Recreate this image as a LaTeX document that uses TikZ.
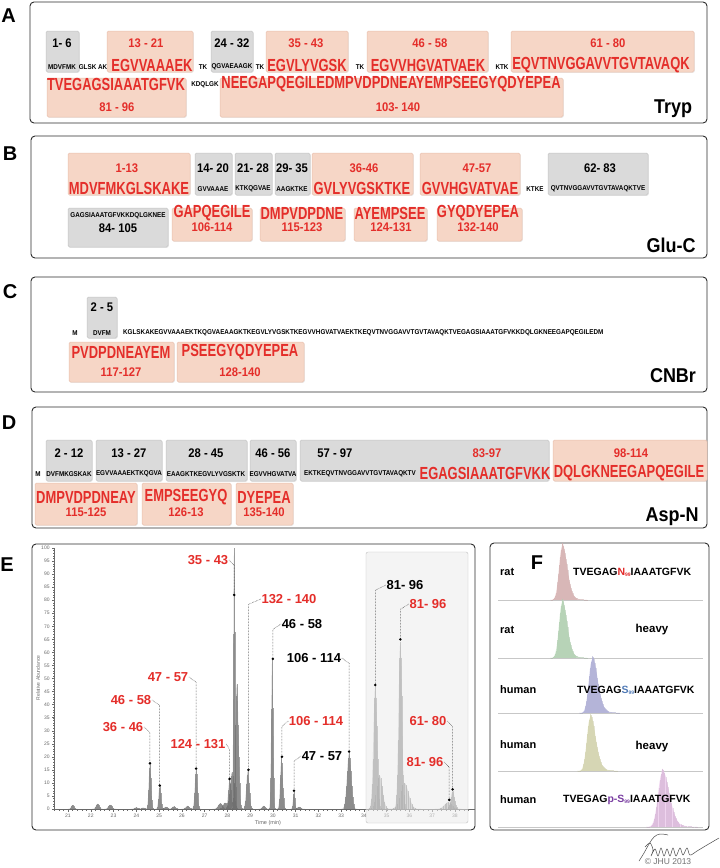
\documentclass[tikz,border=0pt]{standalone}
\usepackage{fontspec}
\setmainfont{Liberation Sans}
\newfontfamily\seqfont{Liberation Sans}[FakeStretch=0.74]
\newfontfamily\labfont{Liberation Sans}[FakeStretch=0.9]
\usepackage{xcolor}
\usepackage{tikz}
\usetikzlibrary{calc,shadows}

\definecolor{pepred}{RGB}{228,46,42}
\definecolor{chipred}{RGB}{246,214,198}
\definecolor{chipredline}{RGB}{232,192,174}
\definecolor{chipgray}{RGB}{218,218,218}
\definecolor{chipgrayline}{RGB}{196,196,196}
\definecolor{frame}{RGB}{45,45,45}
\definecolor{axisgray}{RGB}{105,105,105}
\definecolor{rosepk}{RGB}{218,166,166}
\definecolor{greenpk}{RGB}{166,210,166}
\definecolor{bluepk}{RGB}{160,160,218}
\definecolor{olivepk}{RGB}{214,214,160}
\definecolor{pinkpk}{RGB}{226,176,226}
\definecolor{nred}{RGB}{226,40,40}
\definecolor{sblue}{RGB}{80,122,182}
\definecolor{pspurple}{RGB}{122,62,162}

\newcommand{\pepsub}[1]{\raisebox{-1.2pt}{\fontsize{5}{5}\selectfont #1}}

\tikzset{
  panelbox/.style={draw=frame, line width=0.9pt, rounded corners=4pt},
  redchip/.style={fill=chipred, draw=chipredline, line width=0.5pt, rounded corners=1.5pt,
    drop shadow={opacity=0.15, shadow xshift=0.8pt, shadow yshift=-0.8pt}},
  graychip/.style={fill=chipgray, draw=chipgrayline, line width=0.5pt, rounded corners=1.5pt,
    drop shadow={opacity=0.15, shadow xshift=0.8pt, shadow yshift=-0.8pt}},
  letter/.style={font=\bfseries\fontsize{20}{20}\selectfont, inner sep=0pt},
  enzyme/.style={font=\labfont\bfseries\fontsize{20}{20}\selectfont, inner sep=0pt, anchor=base},
  rng/.style={font=\labfont\bfseries\fontsize{12.5}{12.5}\selectfont, inner sep=0pt, text=pepred},
  bigseq/.style={font=\seqfont\bfseries\fontsize{17.5}{17.5}\selectfont, inner sep=0pt, text=pepred},
  smallseq/.style={font=\labfont\bfseries\fontsize{7}{7}\selectfont, inner sep=0pt},
  elab/.style={font=\bfseries\fontsize{13}{13}\selectfont, inner sep=0.5pt},
  leader/.style={densely dotted, line width=0.5pt, black!85},
  peak/.style={fill=black!45, fill opacity=0.5},
  stick/.style={draw=black!60, line width=0.25pt, opacity=0.6},
  axis/.style={draw=axisgray, line width=0.4pt},
  ticklab/.style={font=\fontsize{5}{5}\selectfont, text=axisgray, inner sep=0pt},
  rowline/.style={draw=black!22, line width=0.4pt},
  ftag/.style={font=\bfseries\fontsize{11}{11}\selectfont, inner sep=0pt, anchor=west},
  fseq/.style={font=\bfseries\fontsize{10.5}{10.5}\selectfont, inner sep=0pt, anchor=west},
  fheavy/.style={font=\bfseries\fontsize{11.5}{11.5}\selectfont, inner sep=0pt},
  sig/.style={draw=black!70, line width=0.5pt, line cap=round},
}

\begin{document}
\begin{tikzpicture}[x=1pt,y=-1pt]
  \useasboundingbox (0,0) rectangle (720,868);
  \fill[white] (0,0) rectangle (720,868);

  % Panel A: trypsin
  \draw[panelbox] (30,2) rectangle (707,123);
  \node[letter] (labA) at (8.5,15.5) {A};
  \foreach \xa/\ya/\xb/\yb/\kind in {46/31/79/72/graychip, 107/31/193/72/redchip,
      211/31/253/72/graychip, 266/31/348/72/redchip, 367/31/488/72/redchip,
      511/31/694/72/redchip, 47/78/186/117/redchip, 220/78/563/117/redchip}
    \draw[\kind] (\xa,\ya) rectangle (\xb,\yb);
  \foreach [count=\i] \x/\y/\t/\c in {62/43/1- 6/black, 146/43/13 - 21/pepred,
      232/43/24 - 32/black, 306/43/35 - 43/pepred, 430/43/46 - 58/pepred,
      608/43/61 - 80/pepred, 117/107/81 - 96/pepred, 398/107/103- 140/pepred}
    \node[rng, text=\c] (ra\i) at (\x,\y) {\t};
  \foreach [count=\i] \x/\y/\t in {152/65/EGVVAAAEK, 307/65/EGVLYVGSK,
      428/65/EGVVHGVATVAEK, 601/65/EQVTNVGGAVVTGVTAVAQK, 116/84/TVEGAGSIAAATGFVK,
      391/84/NEEGAPQEGILEDMPVDPDNEAYEMPSEEGYQDYEPEA}
    \node[bigseq] (sa\i) at (\x,\y) {\t};
  \foreach [count=\i] \x/\y/\t in {62/67/MDVFMK, 93/67/GLSK AK, 203/67/TK,
      232/67/QGVAEAAGK, 260/67/TK, 360/67/TK, 502/67/KTK, 205/85/KDQLGK}
    \node[smallseq] (ta\i) at (\x,\y) {\t};
  \node[enzyme] (tryp) at (673,113) {Tryp};

  % Panel B: Glu-C
  \draw[panelbox] (31,136) rectangle (707,258);
  \node[letter] (labB) at (10,153.5) {B};
  \foreach \xa/\ya/\xb/\yb/\kind in {68/153/190/195/redchip, 195/153/232/195/graychip,
      235/153/272/195/graychip, 275/153/310/195/graychip, 312/153/413/195/redchip,
      420/153/520/195/redchip, 548/153/648/195/graychip, 68/208/168/247/graychip,
      172/208/252/241/redchip, 260/208/345/241/redchip, 354/208/427/241/redchip,
      437/208/522/241/redchip}
    \draw[\kind] (\xa,\ya) rectangle (\xb,\yb);
  \foreach [count=\i] \x/\y/\t/\c in {127/168/1-13/pepred, 213/168/14- 20/black,
      253/168/21- 28/black, 292/168/29- 35/black, 364/168/36-46/pepred,
      477/168/47-57/pepred, 600/168/62- 83/black, 118/228/84- 105/black,
      212/227/106-114/pepred, 302/227/115-123/pepred, 391/227/124-131/pepred,
      478/227/132-140/pepred}
    \node[rng, text=\c] (rb\i) at (\x,\y) {\t};
  \foreach [count=\i] \x/\y/\t in {129/188/MDVFMKGLSKAKE, 362/188/GVLYVGSKTKE,
      470/188/GVVHGVATVAE, 212/213/GAPQEGILE, 302/213/DMPVDPDNE,
      390/213/AYEMPSEE, 478/213/GYQDYEPEA}
    \node[bigseq] (sb\i) at (\x,\y) {\t};
  \foreach [count=\i] \x/\y/\t in {213/189/GVVAAAE, 253/189/KTKQGVAE,
      292/189/AAGKTKE, 535/189/KTKE, 598/189/QVTNVGGAVVTGVTAVAQKTVE,
      118/216/GAGSIAAATGFVKKDQLGKNEE}
    \node[smallseq] (tb\i) at (\x,\y) {\t};
  \node[enzyme] (gluc) at (671,252) {Glu-C};

  % Panel C: CNBr
  \draw[panelbox] (31,277) rectangle (707,392);
  \node[letter] (labC) at (10,292) {C};
  \foreach \xa/\ya/\xb/\yb/\kind in {87/297/117/338/graychip,
      69/342/174/382/redchip, 177/342/304/382/redchip}
    \draw[\kind] (\xa,\ya) rectangle (\xb,\yb);
  \foreach [count=\i] \x/\y/\t/\c in {102/307/2 - 5/black, 121/372/117-127/pepred,
      240/372/128-140/pepred}
    \node[rng, text=\c] (rc\i) at (\x,\y) {\t};
  \node[bigseq] (sc1) at (121,352) {PVDPDNEAYEM};
  \node[bigseq] (sc2) at (240,352) {PSEEGYQDYEPEA};
  \node[smallseq] (tc1) at (75,333) {M};
  \node[smallseq] (tc2) at (102,333) {DVFM};
  \node[smallseq, anchor=west] (tc3) at (123,333)
    {KGLSKAKEGVVAAAEKTKQGVAEAAGKTKEGVLYVGSKTKEGVVHGVATVAEKTKEQVTNVGGAVVTGVTAVAQKTVEGAGSIAAATGFVKKDQLGKNEEGAPQEGILEDM};
  \node[enzyme] (cnbr) at (673,382) {CNBr};

  % Panel D: Asp-N
  \draw[panelbox] (32,407) rectangle (707,528);
  \node[letter] (labD) at (9,423) {D};
  \foreach \xa/\ya/\xb/\yb/\kind in {46/440/92/481/graychip, 96/440/162/481/graychip,
      166/440/247/481/graychip, 250/440/296/481/graychip, 300/440/549/481/graychip,
      553/440/707/481/redchip, 35/483/137/525/redchip, 142/483/231/525/redchip,
      236/483/293/525/redchip}
    \draw[\kind] (\xa,\ya) rectangle (\xb,\yb);
  \foreach [count=\i] \x/\y/\t/\c in {69/453/2 - 12/black, 129/453/13 - 27/black,
      206/453/28 - 45/black, 273/453/46 - 56/black, 335/453/57 - 97/black,
      487/453/83-97/pepred, 631/453/98-114/pepred, 86/512/115-125/pepred,
      186/512/126-13/pepred, 264/512/135-140/pepred}
    \node[rng, text=\c] (rd\i) at (\x,\y) {\t};
  \foreach [count=\i] \x/\y/\t in {485/473/EGAGSIAAATGFVKK, 629/473/DQLGKNEEGAPQEGILE,
      86/497/DMPVDPDNEAY, 186/497/EMPSEEGYQ, 264/497/DYEPEA}
    \node[bigseq] (sd\i) at (\x,\y) {\t};
  \foreach [count=\i] \x/\y/\t in {38/474/M, 69/474/DVFMKGSKAK, 129/474/EGVVAAAEKTKQGVA,
      206/474/EAAGKTKEGVLYVGSKTK, 273/474/EGVVHGVATVA, 360/474/EKTKEQVTNVGGAVVTGVTAVAQKTV}
    \node[smallseq] (td\i) at (\x,\y) {\t};
  \node[enzyme] (aspn) at (672,521) {Asp-N};

  % Panel E: chromatogram
  \draw[panelbox] (32,544) rectangle (475,830);
  \node[letter] (labE) at (7,565) {E};
  \begin{scope}[shift={(-409.96,809)}, x=22.76pt, y=2.61pt]
    % peaks: time / height / width
    \foreach \m/\h/\s in {21.2/1.5/0.06, 22.3/2/0.07, 22.85/1.6/0.08, 24.0/0.6/0.08,
        24.3/0.5/0.08, 24.6/17.5/0.05, 25.03/9/0.05, 25.3/0.8/0.08, 25.65/1/0.07,
        26.25/1.2/0.08, 26.63/15/0.055, 27.7/2.2/0.1, 27.9/2.4/0.1, 28.1/11/0.06,
        28.2/14/0.09, 28.3/100/0.03, 28.42/48/0.07, 28.9/14.5/0.065, 29.6/1.2/0.07,
        29.97/57/0.04, 30.38/19.5/0.055, 30.93/6.5/0.04, 31.15/0.8/0.08,
        33.35/21.5/0.09, 34.5/47/0.08, 34.68/13/0.13, 35.6/64/0.075, 35.78/10/0.18,
        37.7/2.6/0.16, 37.9/7/0.08}{
      \pgfmathsetmacro\lo{\m-4*\s}
      \pgfmathsetmacro\hi{\m+4*\s}
      \fill[peak] plot[domain=\lo:\hi, samples=31] (\x,{\h*exp(-0.5*((\x-\m)/\s)^2)}) -- cycle;
      \draw[stick] plot[ycomb, domain=\lo:\hi, samples=19] (\x,{\h*exp(-0.5*((\x-\m)/\s)^2)});
    }
    % axes
    \draw[axis] (20.38,0) -- (38.88,0);
    \draw[axis] (20.38,0) -- (20.38,100);
    \foreach \t in {20.4,20.6,...,38.8}
      \draw[axis, line width=0.25pt] (\t,0) -- (\t,-0.6);
    \foreach \t in {21,...,38}{
      \draw[axis] (\t,0) -- (\t,-1.2);
      \node[ticklab] (xt\t) at (\t,-2.7) {\t};
    }
    \foreach \v in {1,...,99}
      \draw[axis, line width=0.25pt] (20.38,\v) -- ++(-0.04,0);
    \foreach \v in {0,5,...,100}{
      \draw[axis] (20.38,\v) -- ++(-0.09,0);
      \node[ticklab, anchor=east] (yt\v) at (20.2,\v) {\v};
    }
    % label points
    \foreach \i/\t/\v in {1/24.6/17.5, 2/25.03/9, 3/26.63/15.5, 4/28.1/11.5, 5/28.3/82,
        6/28.93/15, 7/30.0/57.5, 8/30.4/20, 9/30.93/7, 10/33.35/22, 11/34.5/47.5,
        12/35.6/65, 13/37.9/7.5, 14/37.75/3.5}
      \coordinate (mk\i) at (\t,\v);
  \end{scope}
  \node[ticklab, font=\fontsize{5.5}{5.5}\selectfont] (xname) at (268,823) {Time (min)};
  \node[ticklab, rotate=90] (yname) at (38,678) {Relative Abundance};
  % shaded region
  \draw[draw=black!25, fill=black!8, fill opacity=0.55, rounded corners=2pt] (366,552) rectangle (468,823);
  \foreach \i in {1,...,14}
    \fill (mk\i) circle (1.4pt);
  \foreach \i/\x/\y/\t/\c/\side in {1/123/727/36 - 46/pepred/east, 2/131/700/46 - 58/pepred/east,
      3/168/677/47 - 57/pepred/east, 4/198/744/124 - 131/pepred/east,
      5/208/560/35 - 43/pepred/east, 6/289/599/132 - 140/pepred/west,
      7/302/624/46 - 58/black/west, 8/316/721/106 - 114/pepred/west,
      9/322/756/47 - 57/black/west, 10/314/658/106 - 114/black/east,
      11/405/585/81- 96/black/west, 12/428/604/81- 96/pepred/west,
      13/428/721/61- 80/pepred/east, 14/425/762/81- 96/pepred/east}{
    \node[elab, text=\c] (el\i) at (\x,\y) {\t};
    \draw[leader] (el\i.\side) -- (mk\i |- el\i.south) -- (mk\i);
  }

  % Panel F: rat / human peptides
  \draw[panelbox] (490,543) rectangle (709,830);
  \node[letter] (labF) at (537,563) {F};
  \foreach \b in {600,658,713,771,827}
    \draw[rowline] (498,\b) -- (703,\b);
  \foreach \b/\px/\h/\sl/\sr/\c in {600/562/53/3/5/rosepk, 658/562/55/3/5/greenpk,
      713/592/53/3.2/5.5/bluepk, 771/590/53/3.2/5.5/olivepk, 827/662/54/4/7/pinkpk}{
    \pgfmathsetmacro\lo{-4*\sl}
    \pgfmathsetmacro\hi{5*\sr}
    \begin{scope}[shift={(\px,\b)}, y=1pt]
      \fill[\c!55] plot[domain=\lo:\hi, samples=61]
        (\x,{\h*exp(-0.5*(\x/ifthenelse(\x<0,\sl,\sr))^2)+ifthenelse(\x>0,0.08*\h*exp(-\x/(2*\sr)),0)}) -- cycle;
      \draw[draw=\c!80!black, line width=0.25pt, opacity=0.3] plot[ycomb, domain=\lo:\hi, samples=45]
        (\x,{\h*exp(-0.5*(\x/ifthenelse(\x<0,\sl,\sr))^2)+ifthenelse(\x>0,0.08*\h*exp(-\x/(2*\sr)),0)});
    \end{scope}
  }
  \node[ftag] (sp1) at (500,572) {rat};
  \node[fseq] (pp1) at (573,572) {TVEGAG{\color{nred}N\pepsub{99}}IAAATGFVK};
  \node[ftag] (sp2) at (500,630) {rat};
  \node[fheavy] (hv2) at (652,630) {heavy};
  \node[ftag] (sp3) at (500,690) {human};
  \node[fseq] (pp3) at (577,690) {TVEGAG{\color{sblue}S\pepsub{99}}IAAATGFVK};
  \node[ftag] (sp4) at (500,745) {human};
  \node[fheavy] (hv4) at (652,747) {heavy};
  \node[ftag] (sp5) at (500,800) {human};
  \node[fseq] (pp5) at (563,800) {TVEGAG{\color{pspurple}p-S\pepsub{99}}IAAATGFVK};

  % signature
  \draw[sig] plot[smooth, tension=0.6] coordinates {(639,861) (644,853) (649,844) (654,837) (660,834) (668,835)};
  \draw[sig] plot[smooth, tension=0.55] coordinates {(645,847) (650,843) (653,850) (651,856) (655,849)
      (658,856) (661,848) (664,856) (667,849) (670,856) (673,848) (676,856) (680,848) (683,855)
      (687,848) (690,855) (697,851) (707,845) (719,838)};
  \node[font=\fontsize{8.5}{8.5}\selectfont, text=black!55, inner sep=0pt] (copyr) at (668,862) {© JHU 2013};
\end{tikzpicture}
\end{document}
